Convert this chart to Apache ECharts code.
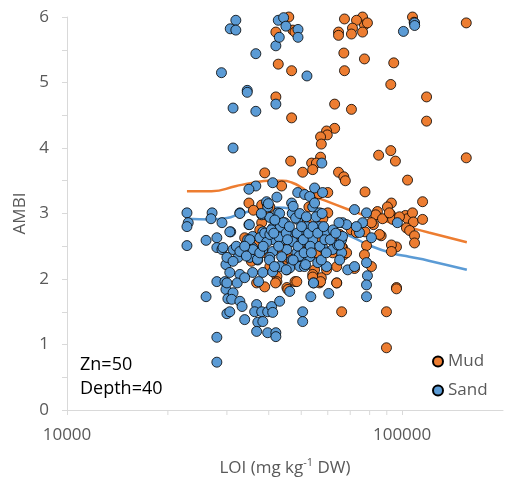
<!DOCTYPE html>
<html>
<head>
<meta charset="utf-8">
<script src="https://cdn.jsdelivr.net/npm/echarts@6/dist/echarts.min.js"></script>
<style>
html,body{margin:0;padding:0;background:#fff;}
#chart{width:505px;height:485px;}
</style>
</head>
<body>
<div id="chart"></div>
<script>
// ---- Data (LOI mg/kg DW, AMBI) ----
const seriesNames = ['Mud', 'Sand'];
const xTickLabels = [10000, 100000];
const xMinorTicks = [20000, 30000, 40000, 50000, 60000, 70000, 80000, 90000];
const yTickLabels = [0, 1, 2, 3, 4, 5, 6];
const annotations = ['Zn=50', 'Depth=40'];

const mudPoints = [
  [155400,5.91],[107400,6.0],[108600,5.92],[67300,5.97],[76200,6.0],[77200,5.88],[73100,5.95],[78800,5.91],
  [71100,5.83],[76200,5.77],[64600,5.77],[64600,5.72],[70600,5.74],[67000,5.45],[67300,5.18],[77200,5.36],
  [94400,5.30],[92500,4.97],[62900,4.67],[70600,4.59],[118300,4.78],[118300,4.41],[155400,3.85],[62900,4.30],
  [59500,4.26],[59800,4.20],[57100,4.17],[57400,4.06],[57100,3.86],[53700,3.77],[55500,3.77],[54100,3.67],
  [85100,3.89],[92500,3.96],[95500,3.80],[46500,3.80],[50500,3.63],[38900,3.62],[42000,5.77],[42700,5.28],
  [46800,5.18],[42000,4.78],[46800,4.46],[45900,6.0],[47200,5.80],[47900,5.77],[64600,3.63],[67000,3.56],
  [67700,3.50],[103800,3.51],[43700,3.42],[77500,3.33],[60000,3.32],[115100,3.18],[92900,3.16],[90400,3.10],
  [84400,3.03],[83400,2.98],[87400,2.92],[82100,2.83],[92500,2.98],[93700,2.91],[102300,2.97],[103800,2.92],
  [107400,3.01],[108000,2.87],[115100,2.91],[103000,2.78],[105300,2.74],[108900,2.66],[108900,2.55],[96200,2.49],
  [92900,2.52],[92900,2.42],[86600,2.66],[78300,2.51],[77200,2.37],[96200,1.87],[89800,1.50],[89800,0.95],
  [66000,1.50],[63800,1.94],[66400,2.48],[67000,2.37],[66000,2.49],[65100,2.68],[63000,2.60],[59500,2.14],
  [57400,2.02],[56700,1.94],[54800,2.14],[54100,2.07],[47900,1.96],[45600,2.29],[45300,1.87],[42300,2.04],
  [42300,1.96],[41900,1.94],[38900,1.88],[34900,3.16],[38100,3.13],[38100,2.86],[33900,2.63],[45600,2.33],
  [40300,2.19],[45300,2.14],[91600,3.01],[98200,2.95],[81000,2.86],[85600,2.68],[63800,2.68],[68300,2.40],
  [81000,2.19],[48500,1.96],[45600,1.84],[36800,1.94],[39500,2.98],[40300,3.10],[52700,3.10],[47200,3.01],
  [60000,3.01],[56400,3.30],[70500,2.75],[73000,2.71],[77500,2.72],[62800,2.65],[62000,2.40],[51800,2.70],
  [56700,2.60],[55500,2.40],[50200,2.34],[49500,2.49],[44000,2.40],[37400,2.55],[37600,2.75],[42000,2.80],
  [63800,2.19],[72100,2.16],[54100,2.03],[57100,1.96],[63800,1.94],[96200,1.85],
  [36000,3.05],[41500,2.92],[44500,2.55],[52000,2.85],[58000,2.92],[47500,2.65],[35500,2.27],[39000,2.40]
];

const sandPoints = [
  [31900,5.95],[30700,5.82],[31900,5.80],[36600,5.44],[28900,5.15],[34500,4.88],[34500,4.85],[31300,4.61],
  [36600,4.56],[31300,4.00],[42000,4.67],[42000,5.56],[43000,5.69],[42700,5.95],[44300,5.99],[45000,5.86],
  [48900,5.81],[48900,5.69],[52000,5.10],[100900,5.78],[108900,5.91],[109000,5.87],[57600,3.77],
  [22800,3.01],[23000,2.86],[22800,2.80],[22800,2.51],[27100,3.01],[26900,2.92],[29000,2.86],[26000,2.59],
  [28000,2.63],[28000,2.48],[29000,2.45],[29800,2.22],[28000,1.96],[29600,1.96],[29800,1.84],[30200,1.70],
  [30000,1.47],[26000,1.73],[28000,1.11],[28000,0.73],[30800,2.72],
  [36600,3.42],[41100,3.47],[39500,3.16],[39700,3.10],[32800,3.01],[34900,2.83],[30600,2.72],[38100,2.98],
  [40300,2.94],[42600,3.01],[46800,3.16],[48800,3.32],[51200,3.29],[44700,2.86],[46200,2.72],[48800,2.91],
  [50500,2.75],[41100,2.78],[38400,2.72],[35800,2.65],[37600,2.63],[34600,2.60],[40800,2.60],[44000,2.60],
  [47200,2.57],[50200,2.57],[29200,2.48],[31300,2.45],[33500,2.48],[35800,2.48],[38400,2.45],[41100,2.42],
  [45300,2.45],[48500,2.40],[51200,2.40],[30000,2.33],[32400,2.33],[35100,2.33],[37100,2.29],[40300,2.33],
  [43700,2.34],[46800,2.29],[50200,2.33],[31300,2.27],[43100,2.19],[46200,2.17],[49500,2.19],[30600,2.10],
  [32800,2.07],[35800,2.10],[38400,2.10],[41100,2.11],
  [72100,3.06],[78300,3.01],[66400,2.86],[76200,2.86],[74600,2.71],[81000,2.63],[62000,2.45],[66000,2.40],
  [65100,2.29],[68800,2.14],[78300,2.25],[96800,2.86],[53000,3.26],[54800,3.39],[57900,3.32],[54100,3.10],
  [56700,3.01],[51900,2.80],[56700,2.80],[58700,2.71],[54100,2.60],[57900,2.48],[53000,2.34],[56000,2.25],
  [59500,2.19],
  [30000,1.94],[32200,1.94],[33900,2.02],[31300,1.79],[31000,1.69],[32800,1.66],[33300,1.58],[30600,1.50],
  [33900,1.38],[36800,1.61],[36300,1.50],[38100,1.50],[39700,1.50],[40800,1.58],[41100,1.49],[37100,1.34],
  [38400,1.35],[36800,1.20],[39700,1.18],[42000,1.18],[42000,1.12],[43100,1.66],[46200,1.81],[50500,1.50],
  [50500,1.35],[37300,1.96],
  [78800,2.05],[78300,1.91],[78300,1.73],[54400,1.94],[53400,1.73],[60400,1.78],[72100,2.19],[64200,2.52],
  [66000,2.60],[68300,2.83],[73000,2.80],[34900,3.37],[42300,3.25],[66400,2.65],
  [43100,3.00],[43300,2.80],[42900,2.64],[44200,2.86],[45100,2.70],[45500,2.60],[46100,2.80],[47000,3.00],
  [47300,3.11],[48100,2.93],[48600,2.70],[48900,2.50],[49300,2.35],[49500,3.00],[50100,2.80],[50700,2.60],
  [51000,2.40],[51100,2.19],[51800,2.95],[52600,2.70],[53200,2.50],[53600,2.40],[54200,2.80],[54800,3.16],
  [55400,2.95],[56000,2.70],[56800,2.50],[57400,2.29],[57700,3.00],[58300,2.80],[58800,2.60],[59400,2.40],
  [38000,3.00],[39400,3.18],[39900,3.15],[38900,2.70],[39400,2.56],[40300,2.68],[40700,2.75],[41400,2.70],
  [41700,2.90],[35000,2.83],[35100,2.60],[35900,2.45],[37000,2.30],[37600,2.40],[38500,2.50],[32000,2.50],
  [32800,2.42],[33900,2.50],[34300,2.35],[32800,3.00],[62200,2.75],[61000,2.60],[63400,2.70],[64800,2.86],
  [65000,2.52],[54400,1.94],[51500,2.22],[47300,2.29],[40200,2.29],[41600,2.19],[45100,2.14],[42800,2.50]
];

const mudTrend = [
  [22800,3.34],[27000,3.34],[32000,3.42],[36000,3.47],[40000,3.50],[44000,3.50],[47000,3.47],[50000,3.40],
  [54000,3.28],[60000,3.18],[71000,3.04],[82000,2.93],[98000,2.83],[120000,2.71],[156000,2.56]
];
const sandTrend = [
  [22800,2.92],[27000,2.91],[30000,2.93],[33000,3.00],[37600,3.06],[42000,3.09],[47000,3.07],[52000,2.98],
  [57000,2.87],[62000,2.76],[71000,2.64],[81000,2.50],[94000,2.39],[105000,2.34],[120000,2.28],[156000,2.14]
];

const colors = { mud: '#ED7D31', sand: '#5B9BD5', axis: '#D9D9D9', text: '#595959' };
const FONT = 'Open Sans';

const chart = echarts.init(document.getElementById('chart'), null, { renderer: 'canvas' });
chart.setOption({
  animation: false,
  backgroundColor: '#fff',
  textStyle: { fontFamily: FONT },
  grid: { left: 67, right: 2, top: 17, bottom: 75, containLabel: false },
  legend: {
    data: seriesNames,
    orient: 'vertical',
    left: 427, top: 348,
    itemWidth: 10, itemHeight: 10, itemGap: 12,
    icon: 'circle',
    textStyle: { fontSize: 17, color: colors.text, fontFamily: FONT }
  },
  xAxis: {
    type: 'log', logBase: 10, min: 10000, max: 200000,
    name: '{a|LOI (mg kg}{s|-1}{a| DW)}',
    nameLocation: 'middle', nameGap: 47,
    nameTextStyle: {
      rich: {
        a: { fontSize: 17, color: colors.text, fontFamily: FONT, lineHeight: 22 },
        s: { fontSize: 11, color: colors.text, fontFamily: FONT, verticalAlign: 'top', lineHeight: 22, padding: [0, 0, 8, 0] }
      }
    },
    axisLine: { show: true, lineStyle: { color: colors.axis, width: 1 } },
    axisTick: { show: true, length: 5, lineStyle: { color: colors.axis } },
    splitLine: { show: false },
    axisLabel: {
      fontSize: 17, color: colors.text, margin: 17, fontFamily: FONT,
      showMaxLabel: false,
      formatter: v => xTickLabels.some(t => Math.abs(t - v) / t < 1e-6) ? String(Math.round(v)) : ''
    }
  },
  yAxis: {
    type: 'value', min: 0, max: 6, interval: 1,
    name: 'AMBI', nameLocation: 'middle', nameGap: 38, nameRotate: 90,
    nameTextStyle: { fontSize: 17, color: colors.text, fontFamily: FONT },
    axisLine: { show: true, lineStyle: { color: colors.axis, width: 1 } },
    axisTick: { show: true, length: 5, lineStyle: { color: colors.axis } },
    minorTick: { show: true, splitNumber: 2, length: 5, lineStyle: { color: colors.axis } },
    splitLine: { show: false },
    minorSplitLine: { show: false },
    axisLabel: {
      fontSize: 17, color: colors.text, margin: 18, fontFamily: FONT,
      formatter: v => yTickLabels.includes(v) ? String(v) : ''
    }
  },
  graphic: [
    { type: 'text', left: 80, top: 356, style: { text: annotations[0], fontSize: 18, fill: '#000', fontFamily: FONT } },
    { type: 'text', left: 80, top: 380, style: { text: annotations[1], fontSize: 18, fill: '#000', fontFamily: FONT } }
  ],
  series: [
    {
      name: 'xMinorTicks', type: 'custom', silent: true, clip: false, z: 1,
      data: xMinorTicks.map(v => [v, 0]),
      renderItem: (params, api) => {
        const p = api.coord([api.value(0), 0]);
        return { type: 'line', shape: { x1: p[0], y1: p[1], x2: p[0], y2: p[1] + 5 },
                 style: { stroke: colors.axis, lineWidth: 1 } };
      }
    },
    {
      name: 'Mud trend', type: 'line', data: mudTrend, smooth: 0.5, showSymbol: false, z: 1,
      lineStyle: { color: colors.mud, width: 2.5 }, itemStyle: { color: colors.mud }
    },
    {
      name: 'Sand trend', type: 'line', data: sandTrend, smooth: 0.5, showSymbol: false, z: 1,
      lineStyle: { color: colors.sand, width: 2.5 }, itemStyle: { color: colors.sand }
    },
    {
      name: seriesNames[0], type: 'scatter', data: mudPoints, symbolSize: 10, z: 3,
      itemStyle: { color: colors.mud, borderColor: '#000', borderWidth: 0.8, opacity: 1 }
    },
    {
      name: seriesNames[1], type: 'scatter', data: sandPoints, symbolSize: 10, z: 4,
      itemStyle: { color: colors.sand, borderColor: '#000', borderWidth: 0.8, opacity: 1 }
    }
  ]
});
</script>
</body>
</html>
